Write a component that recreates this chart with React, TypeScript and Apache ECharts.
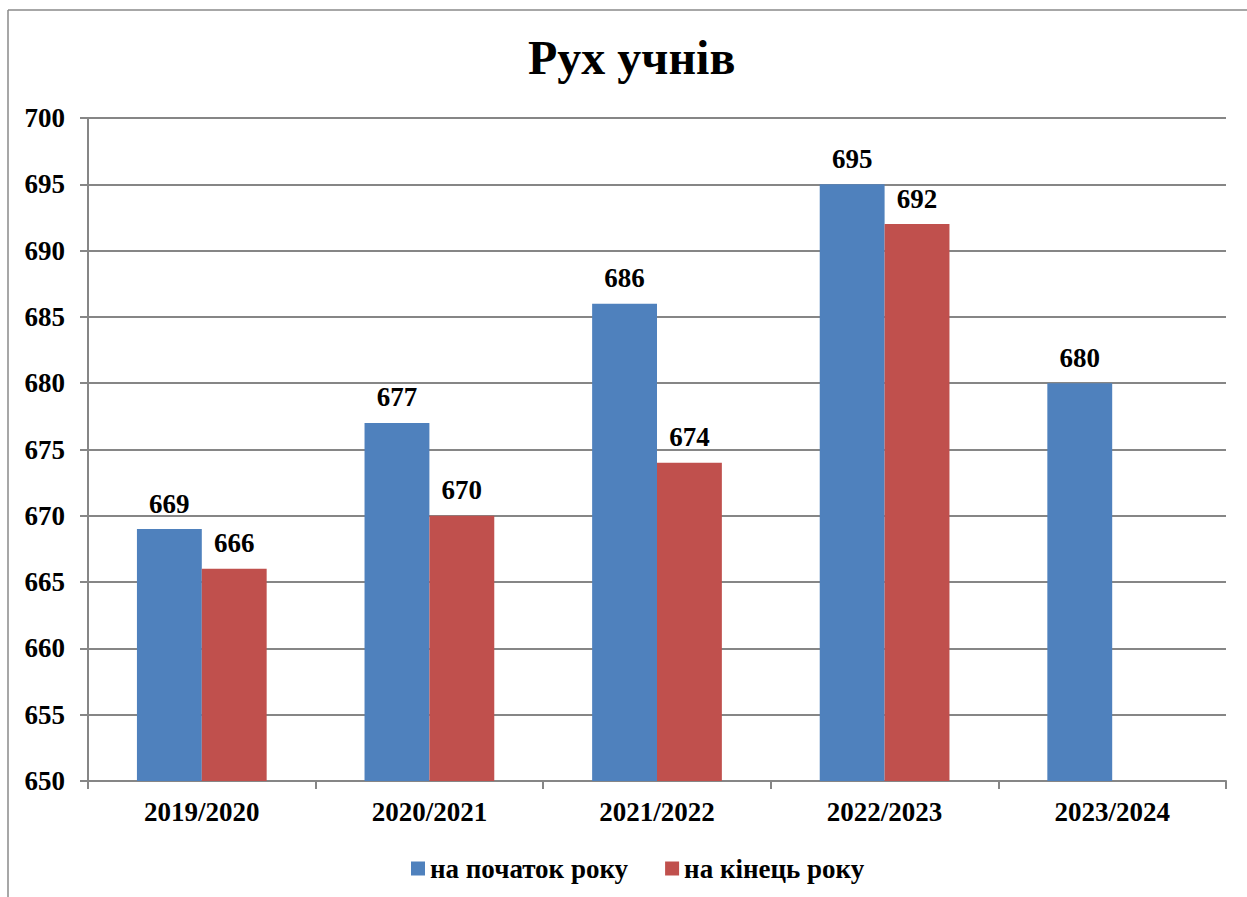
import React, { useEffect, useRef } from "react";
import * as echarts from "echarts";

const categories = ["2019/2020", "2020/2021", "2021/2022", "2022/2023", "2023/2024"];
const startOfYear = [669, 677, 686, 695, 680];
const endOfYear: (number | null)[] = [666, 670, 674, 692, null];
const seriesNames = ["на початок року", "на кінець року"];
const titleText = "Рух учнів";
const yMin = 650;
const yMax = 700;
const yStep = 5;

const FONT = "'Liberation Serif', 'Times New Roman', serif";

export default function App() {
  const ref = useRef<HTMLDivElement>(null);
  useEffect(() => {
    if (!ref.current) return;
    const chart = echarts.init(ref.current, null, { renderer: "svg" });
    const labelStyle = {
      show: true,
      position: "top" as const,
      distance: 12,
      color: "#000",
      fontFamily: FONT,
      fontWeight: "bold" as const,
      fontSize: 27,
    };
    chart.setOption({
      animation: false,
      backgroundColor: "#fff",
      title: {
        text: titleText,
        left: 523,
        top: 28,
        textStyle: { fontFamily: FONT, fontWeight: "bold", fontSize: 48, color: "#000" },
      },
      graphic: [
        { type: "line", shape: { x1: 8, y1: 10, x2: 1247, y2: 10 }, style: { stroke: "#8a8a8a", lineWidth: 1.5 } },
        { type: "line", shape: { x1: 8, y1: 10, x2: 8, y2: 897 }, style: { stroke: "#8a8a8a", lineWidth: 1.5 } },
      ],
      legend: {
        left: 406,
        top: 850,
        itemWidth: 14,
        itemHeight: 14,
        itemGap: 37,
        textStyle: { fontFamily: FONT, fontWeight: "bold", fontSize: 27, color: "#000" },
        data: seriesNames.map((n) => ({ name: n, icon: "rect" })),
      },
      grid: { left: 88, right: 21, top: 118, bottom: 116, containLabel: false },
      xAxis: {
        type: "category",
        data: categories,
        axisLine: { lineStyle: { color: "#868686", width: 2 } },
        axisTick: { show: true, length: 8, lineStyle: { color: "#868686", width: 2 } },
        axisLabel: { margin: 17, color: "#000", fontFamily: FONT, fontWeight: "bold", fontSize: 27 },
      },
      yAxis: {
        type: "value",
        min: yMin,
        max: yMax,
        interval: yStep,
        axisLine: { show: true, lineStyle: { color: "#868686", width: 2 } },
        axisTick: { show: true, length: 8, lineStyle: { color: "#868686", width: 2 } },
        axisLabel: { margin: 23, color: "#000", fontFamily: FONT, fontWeight: "bold", fontSize: 27 },
        splitLine: { show: true, lineStyle: { color: "#868686", width: 2 } },
      },
      series: [
        {
          name: seriesNames[0],
          type: "bar",
          data: startOfYear,
          itemStyle: { color: "#4F81BD" },
          barGap: "0%",
          barCategoryGap: "43%",
          label: labelStyle,
        },
        {
          name: seriesNames[1],
          type: "bar",
          data: endOfYear,
          itemStyle: { color: "#C0504D" },
          barGap: "0%",
          barCategoryGap: "43%",
          label: labelStyle,
        },
      ],
    });
    return () => chart.dispose();
  }, []);
  return (
    <div
      ref={ref}
      style={{ position: "fixed", left: 0, top: 0, width: 1247, height: 897, background: "#fff" }}
    />
  );
}
